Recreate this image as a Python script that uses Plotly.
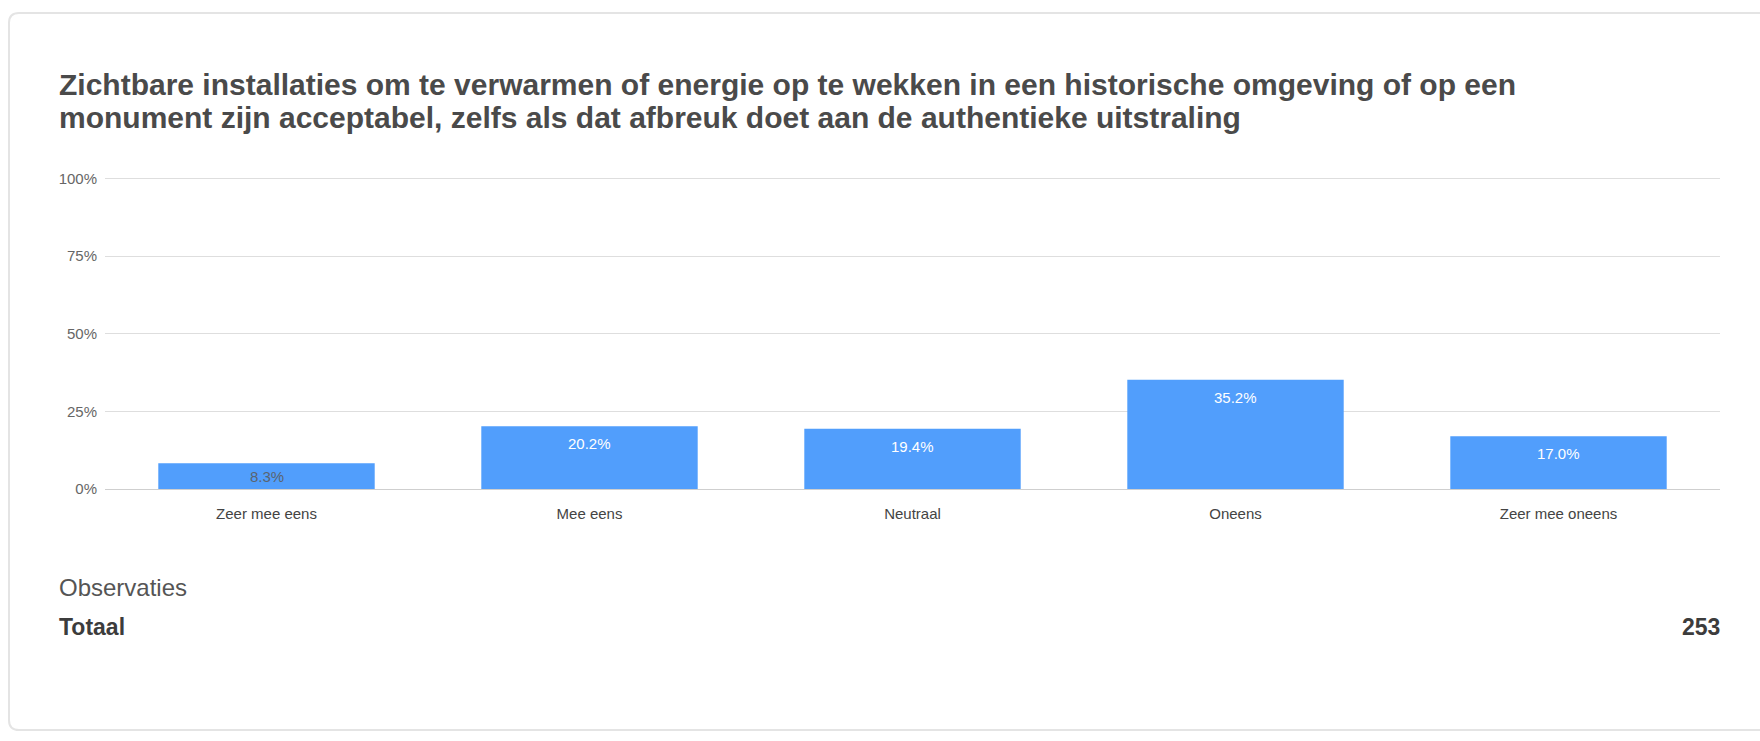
import plotly.graph_objects as go

# survey answers (share of respondents, %)
categories = ["Zeer mee eens", "Mee eens", "Neutraal", "Oneens", "Zeer mee oneens"]
values = [8.3, 20.2, 19.4, 35.2, 17.0]
label_colors = ["#5a6470", "white", "white", "white", "white"]
y_ticks = [0, 25, 50, 75, 100]
y_tick_text = ["0%", "25%", "50%", "75%", "100%"]
total_obs = 253

title_lines = [
    "Zichtbare installaties om te verwarmen of energie op te wekken in een historische omgeving of op een",
    "monument zijn acceptabel, zelfs als dat afbreuk doet aan de authentieke uitstraling",
]

W, H = 1760, 741
FONT = "Liberation Sans, Arial, sans-serif"


def px(x):
    return x / W


def py(y):
    return 1 - y / H


fig = go.Figure()
fig.add_bar(
    x=categories,
    y=values,
    width=0.67,
    marker=dict(color="#519efc", line=dict(width=0)),
    hoverinfo="x+y",
)

# value labels just inside the top of each bar
for cat, val, col in zip(categories, values, label_colors):
    fig.add_annotation(x=cat, y=val, text=f"{val:.1f}%", xref="x", yref="y",
                       yanchor="top", yshift=-7 if val > 10 else -3, showarrow=False,
                       font=dict(family=FONT, size=15, color=col))

# card outline with rounded left corners (runs off the right edge)
x0, y0, x1, y1, r = 9, 6, 1800, 738, 10
card = (f"M {px(x0 + r)},{py(y0)} L {px(x1)},{py(y0)} L {px(x1)},{py(y1)} "
        f"L {px(x0 + r)},{py(y1)} Q {px(x0)},{py(y1)} {px(x0)},{py(y1 - r)} "
        f"L {px(x0)},{py(y0 + r)} Q {px(x0)},{py(y0)} {px(x0 + r)},{py(y0)} Z")

# y range a hair above 100 so the 100% gridline is drawn
y_top = 100.6
plot_top = 492 - (492 - 175) * y_top / 100

fig.update_layout(
    width=W,
    height=H,
    margin=dict(l=0, r=0, t=0, b=0),
    paper_bgcolor="white",
    plot_bgcolor="white",
    showlegend=False,
    font=dict(family=FONT),
    shapes=[dict(type="path", path=card, xref="paper", yref="paper",
                 line=dict(color="#e4e4e4", width=2), layer="below")],
    xaxis=dict(
        domain=[px(105), px(1720)],
        range=[-0.5, 4.5],
        showgrid=False,
        showline=False,
        zeroline=False,
        ticks="",
        ticklabelstandoff=14,
        tickfont=dict(size=15, color="#444444"),
        fixedrange=True,
    ),
    yaxis=dict(
        domain=[py(492), py(plot_top)],
        range=[0, y_top],
        tickmode="array",
        tickvals=y_ticks,
        ticktext=y_tick_text,
        showgrid=True,
        gridcolor="#dedede",
        gridwidth=1,
        zeroline=True,
        zerolinecolor="#cfcfcf",
        zerolinewidth=1,
        ticks="",
        ticklabelstandoff=7,
        tickfont=dict(size=15, color="#666666"),
        fixedrange=True,
    ),
)

annots = [
    dict(text=f"<b>{title_lines[0]}</b>", x=px(57), y=py(79), font=dict(size=30, color="#4a4a4a")),
    dict(text=f"<b>{title_lines[1]}</b>", x=px(57), y=py(113), font=dict(size=30, color="#4a4a4a")),
    dict(text="Observaties", x=px(57), y=py(592), font=dict(size=24, color="#555555")),
    dict(text="<b>Totaal</b>", x=px(57), y=py(633), font=dict(size=23, color="#3c3c3c")),
]
for a in annots:
    fig.add_annotation(xref="paper", yref="paper", xanchor="left", yanchor="middle",
                       showarrow=False, **a)
fig.add_annotation(text=f"<b>{total_obs}</b>", x=px(1722), y=py(633), xref="paper", yref="paper",
                   xanchor="right", yanchor="middle", showarrow=False,
                   font=dict(size=23, color="#3c3c3c"))

fig.write_html("out.html", config={"displayModeBar": False},
               post_script="document.body.style.margin='0';")
